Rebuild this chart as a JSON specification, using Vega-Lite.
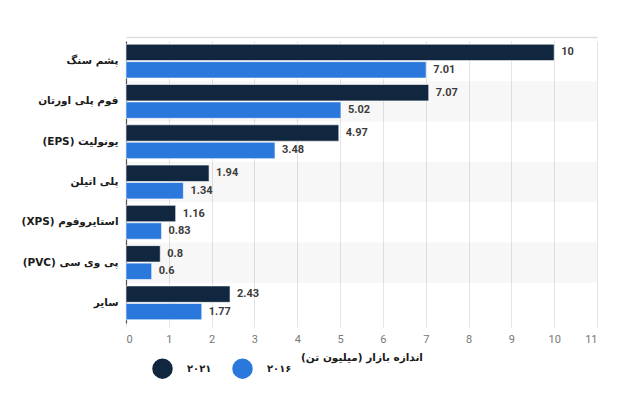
{
  "$schema": "https://vega.github.io/schema/vega-lite/v6.json",
  "autosize": {"type": "none"},
  "width": 471,
  "height": 282,
  "padding": {"left": 126, "top": 41, "right": 28, "bottom": 77},
  "background": "#ffffff",
  "config": {"view": {"stroke": null}, "font": "Roboto"},
  "data": {
    "values": [
      {"category": "\u202Bپشم سنگ\u202C", "year": "۲۰۲۱", "value": 10},
      {"category": "\u202Bپشم سنگ\u202C", "year": "۲۰۱۶", "value": 7.01},
      {"category": "\u202Bفوم پلی اورتان\u202C", "year": "۲۰۲۱", "value": 7.07},
      {"category": "\u202Bفوم پلی اورتان\u202C", "year": "۲۰۱۶", "value": 5.02},
      {"category": "\u202Bیونولیت (EPS)\u202C", "year": "۲۰۲۱", "value": 4.97},
      {"category": "\u202Bیونولیت (EPS)\u202C", "year": "۲۰۱۶", "value": 3.48},
      {"category": "\u202Bپلی اتیلن\u202C", "year": "۲۰۲۱", "value": 1.94},
      {"category": "\u202Bپلی اتیلن\u202C", "year": "۲۰۱۶", "value": 1.34},
      {"category": "\u202Bاستایروفوم (XPS)\u202C", "year": "۲۰۲۱", "value": 1.16},
      {"category": "\u202Bاستایروفوم (XPS)\u202C", "year": "۲۰۱۶", "value": 0.83},
      {"category": "\u202Bپی وی سی (PVC)\u202C", "year": "۲۰۲۱", "value": 0.8},
      {"category": "\u202Bپی وی سی (PVC)\u202C", "year": "۲۰۱۶", "value": 0.6},
      {"category": "\u202Bسایر\u202C", "year": "۲۰۲۱", "value": 2.43},
      {"category": "\u202Bسایر\u202C", "year": "۲۰۱۶", "value": 1.77}
    ]
  },
  "resolve": {"scale": {"y": "independent"}},
  "layer": [
    {
      "transform": [
        {"filter": {"field": "year", "equal": "۲۰۲۱"}},
        {"filter": {"field": "category", "oneOf": ["\u202Bفوم پلی اورتان\u202C", "\u202Bپلی اتیلن\u202C", "\u202Bپی وی سی (PVC)\u202C"]}}
      ],
      "mark": {"type": "rect", "fill": "#000000", "fillOpacity": 0.03},
      "encoding": {
        "y": {
          "field": "category", "type": "nominal", "sort": null,
          "scale": {"domain": ["\u202Bپشم سنگ\u202C", "\u202Bفوم پلی اورتان\u202C", "\u202Bیونولیت (EPS)\u202C", "\u202Bپلی اتیلن\u202C", "\u202Bاستایروفوم (XPS)\u202C", "\u202Bپی وی سی (PVC)\u202C", "\u202Bسایر\u202C"], "paddingInner": 0, "paddingOuter": 0},
          "axis": null
        },
        "x": {
          "datum": 0, "type": "quantitative", "scale": {"domain": [0, 11], "nice": false},
          "axis": {"orient": "top", "title": null, "labels": false, "ticks": false, "grid": false, "domain": true, "domainColor": "#dddddd", "domainWidth": 1.5, "offset": 4}
        },
        "x2": {"datum": 11}
      }
    },
    {
      "layer": [
        {
          "mark": {"type": "bar", "stroke": "#ffffff", "strokeWidth": 0.6},
          "encoding": {
            "x": {"field": "value", "type": "quantitative"},
            "color": {
              "field": "year", "type": "nominal",
              "scale": {"domain": ["۲۰۲۱", "۲۰۱۶"], "range": ["#10273f", "#2a78dc"]},
              "legend": {
                "title": null, "orient": "none", "legendX": 26, "legendY": 317,
                "direction": "horizontal", "symbolType": "circle", "symbolSize": 420,
                "symbolStrokeWidth": 0, "labelFont": "DejaVu Sans", "labelFontSize": 10,
                "labelFontWeight": "bold", "labelColor": "#1a1a1a", "labelOffset": 14,
                "columnPadding": 20
              }
            }
          }
        },
        {
          "mark": {"type": "text", "align": "left", "baseline": "middle", "dx": 7, "fontSize": 11, "fontWeight": "bold", "fill": "#3c3c3c"},
          "encoding": {
            "x": {"field": "value", "type": "quantitative"},
            "text": {"field": "value", "type": "quantitative"}
          }
        }
      ],
      "encoding": {
        "y": {
          "field": "category", "type": "nominal", "sort": null,
          "scale": {"domain": ["\u202Bپشم سنگ\u202C", "\u202Bفوم پلی اورتان\u202C", "\u202Bیونولیت (EPS)\u202C", "\u202Bپلی اتیلن\u202C", "\u202Bاستایروفوم (XPS)\u202C", "\u202Bپی وی سی (PVC)\u202C", "\u202Bسایر\u202C"], "paddingInner": 0.16, "paddingOuter": 0.08},
          "axis": {
            "title": null, "ticks": false, "labelPadding": 8, "labelFont": "DejaVu Sans",
            "labelFontSize": 10.5, "labelFontWeight": "bold", "labelColor": "#1a1a1a",
            "domainColor": "#555555", "domainWidth": 1.2
          }
        },
        "yOffset": {
          "field": "year", "type": "nominal", "sort": ["۲۰۲۱", "۲۰۱۶"],
          "scale": {"paddingInner": 0.06}
        },
        "x": {
          "field": "value", "type": "quantitative",
          "scale": {"domain": [0, 11], "nice": false},
          "axis": {
            "orient": "bottom",
            "title": "\u202Bاندازه بازار (میلیون تن)\u202C", "titleFont": "DejaVu Sans", "titleFontSize": 10.5,
            "titleFontWeight": "bold", "titleColor": "#1a1a1a", "titlePadding": 8,
            "values": [0, 1, 2, 3, 4, 5, 6, 7, 8, 9, 10, 11],
            "domain": false, "grid": true, "gridColor": "#e4e4e4",
            "ticks": true, "tickColor": "#e4e4e4", "tickSize": 4,
            "labelFontSize": 11, "labelColor": "#777777", "labelPadding": 6
          }
        }
      }
    }
  ]
}
